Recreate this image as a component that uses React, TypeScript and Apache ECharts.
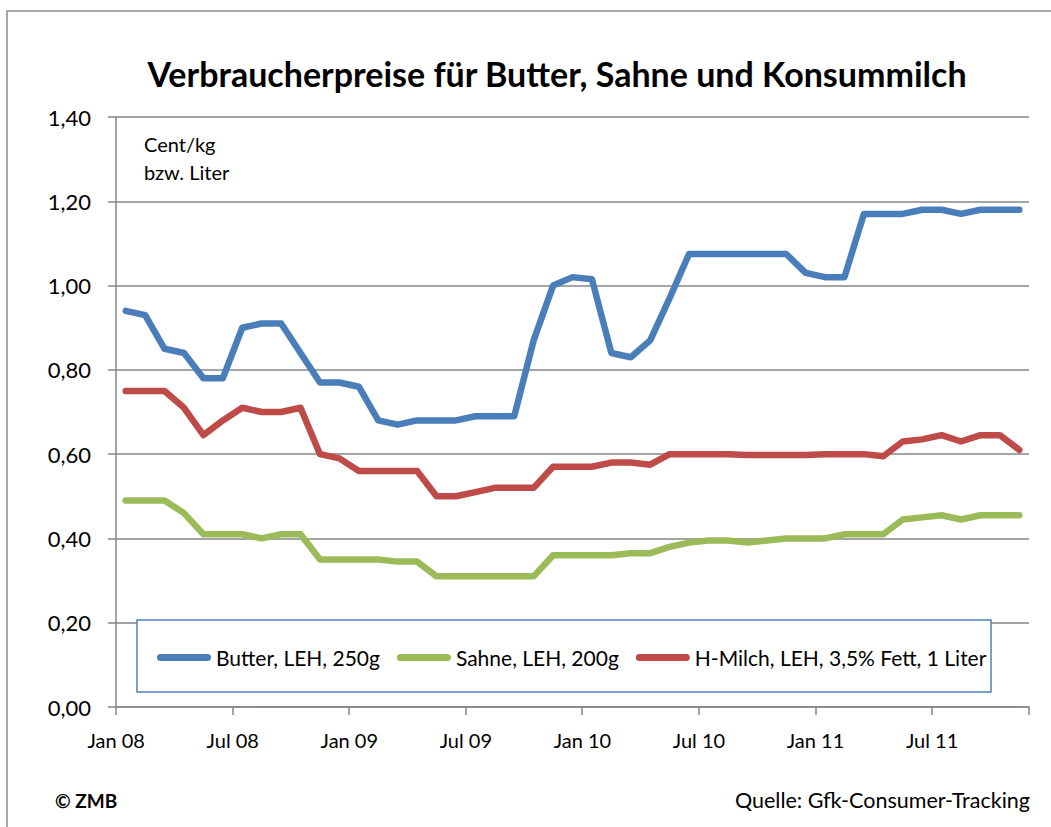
import React, { useEffect, useRef } from "react";
import * as echarts from "echarts";

// ---- data ----
const monthNames = ["Jan", "Feb", "Mrz", "Apr", "Mai", "Jun", "Jul", "Aug", "Sep", "Okt", "Nov", "Dez"];
const yearLabels = ["08", "09", "10", "11"];
const monthCount = 47; // Jan 08 .. Nov 11
const categories: string[] = [];
for (let i = 0; i < monthCount; i++) {
  categories.push(monthNames[i % 12] + " " + yearLabels[Math.floor(i / 12)]);
}

const seriesNames = ["Butter, LEH, 250g", "Sahne, LEH, 200g", "H-Milch, LEH, 3,5% Fett, 1 Liter"];

const butter = [
  0.94, 0.93, 0.85, 0.84, 0.78, 0.78, 0.9, 0.91, 0.91, 0.84, 0.77, 0.77,
  0.76, 0.68, 0.67, 0.68, 0.68, 0.68, 0.69, 0.69, 0.69, 0.87, 1.0, 1.02,
  1.015, 0.84, 0.83, 0.87, 0.97, 1.075, 1.075, 1.075, 1.075, 1.075, 1.075, 1.03,
  1.02, 1.02, 1.17, 1.17, 1.17, 1.18, 1.18, 1.17, 1.18, 1.18, 1.18,
];
const sahne = [
  0.49, 0.49, 0.49, 0.46, 0.41, 0.41, 0.41, 0.4, 0.41, 0.41, 0.35, 0.35,
  0.35, 0.35, 0.345, 0.345, 0.31, 0.31, 0.31, 0.31, 0.31, 0.31, 0.36, 0.36,
  0.36, 0.36, 0.365, 0.365, 0.38, 0.39, 0.395, 0.395, 0.39, 0.395, 0.4, 0.4,
  0.4, 0.41, 0.41, 0.41, 0.445, 0.45, 0.455, 0.445, 0.455, 0.455, 0.455,
];
const milch = [
  0.75, 0.75, 0.75, 0.71, 0.645, 0.68, 0.71, 0.7, 0.7, 0.71, 0.6, 0.59,
  0.56, 0.56, 0.56, 0.56, 0.5, 0.5, 0.51, 0.52, 0.52, 0.52, 0.57, 0.57,
  0.57, 0.58, 0.58, 0.575, 0.6, 0.6, 0.6, 0.6, 0.598, 0.598, 0.598, 0.598,
  0.6, 0.6, 0.6, 0.595, 0.63, 0.635, 0.645, 0.63, 0.645, 0.645, 0.61,
];

const colors = ["#4A7EBB", "#9BBB59", "#BE4B48"];

const BODY = "Lato, 'Open Sans', sans-serif";
const LEGEND_ICON = "path://M3.5,0 L50.5,0 A3.5,3.5 0 0 1 50.5,7 L3.5,7 A3.5,3.5 0 0 1 3.5,0 Z";

export default function App() {
  const ref = useRef<HTMLDivElement>(null);

  useEffect(() => {
    if (!ref.current) return;
    const chart = echarts.init(ref.current, undefined, { renderer: "svg" });
    const lineSeries = (name: string, data: number[], color: string) => ({
      name,
      type: "line",
      data,
      symbol: "none",
      showSymbol: false,
      z: 2,
      lineStyle: { color, width: 6.5, cap: "round", join: "round" },
      itemStyle: { color },
    });
    chart.setOption({
      animation: false,
      backgroundColor: "#ffffff",
      grid: { left: 116, right: 22, top: 117, bottom: 120, containLabel: false, outerBoundsMode: "none" },
      xAxis: {
        type: "category",
        data: categories,
        boundaryGap: true,
        axisLine: { show: true, lineStyle: { color: "#868686", width: 1.5 } },
        axisTick: { show: true, interval: 5, length: 8, lineStyle: { color: "#868686", width: 1.5 } },
        axisLabel: {
          interval: 5,
          margin: 23,
          color: "#000",
          fontSize: 20,
          fontFamily: BODY,
          padding: [0, 19, 0, 0],
        },
        splitLine: { show: false },
      },
      yAxis: {
        type: "value",
        min: 0,
        max: 1.4,
        interval: 0.2,
        axisLine: { show: true, lineStyle: { color: "#868686", width: 1.5 } },
        axisTick: { show: true, length: 8, lineStyle: { color: "#868686", width: 1.5 } },
        axisLabel: {
          margin: 25,
          color: "#000",
          fontSize: 22,
          fontFamily: BODY,
          formatter: (v: number) => v.toFixed(2).replace(".", ","),
        },
        splitLine: { show: true, lineStyle: { color: "#868686", width: 1.5 } },
      },
      legend: {
        show: true,
        left: 157,
        top: 647,
        padding: 0,
        z: 10,
        itemWidth: 54,
        itemHeight: 7,
        itemGap: 17,
        icon: LEGEND_ICON,
        textStyle: { fontSize: 21, fontFamily: BODY, color: "#000" },
        data: [
          { name: seriesNames[0], textStyle: { width: 163 } },
          { name: seriesNames[1], textStyle: { width: 161 } },
          { name: seriesNames[2] },
        ],
      },
      series: [
        lineSeries(seriesNames[0], butter, colors[0]),
        lineSeries(seriesNames[1], sahne, colors[1]),
        lineSeries(seriesNames[2], milch, colors[2]),
      ],
      graphic: [
        {
          type: "rect",
          z: 0,
          silent: true,
          shape: { x: 7, y: 11, width: 1200, height: 1000 },
          style: { fill: "none", stroke: "#8c8c8c", lineWidth: 1.5 },
        },
        {
          type: "rect",
          z: 5,
          silent: true,
          shape: { x: 137, y: 620, width: 854, height: 72 },
          style: { fill: "#ffffff", stroke: "#4F81BD", lineWidth: 1.5 },
        },
        {
          type: "text",
          z: 6,
          x: 557,
          y: 73,
          style: {
            text: "Verbraucherpreise für Butter, Sahne und Konsummilch",
            fill: "#000",
            font: "bold 34px " + BODY,
            textAlign: "center",
            textVerticalAlign: "middle",
          },
        },
        {
          type: "text",
          z: 6,
          x: 144,
          y: 144,
          style: { text: "Cent/kg", fill: "#000", font: "20px " + BODY, textAlign: "left", textVerticalAlign: "middle" },
        },
        {
          type: "text",
          z: 6,
          x: 144,
          y: 172,
          style: { text: "bzw. Liter", fill: "#000", font: "20px " + BODY, textAlign: "left", textVerticalAlign: "middle" },
        },
        {
          type: "text",
          z: 6,
          x: 55,
          y: 800,
          style: { text: "© ZMB", fill: "#000", font: "bold 19px " + BODY, textAlign: "left", textVerticalAlign: "middle" },
        },
        {
          type: "text",
          z: 6,
          x: 1030,
          y: 800,
          style: {
            text: "Quelle: Gfk-Consumer-Tracking",
            fill: "#000",
            font: "21.5px " + BODY,
            textAlign: "right",
            textVerticalAlign: "middle",
          },
        },
      ],
    });
    return () => chart.dispose();
  }, []);

  return (
    <div
      ref={ref}
      style={{ position: "absolute", left: 0, top: 0, width: 1051, height: 827 }}
    />
  );
}
